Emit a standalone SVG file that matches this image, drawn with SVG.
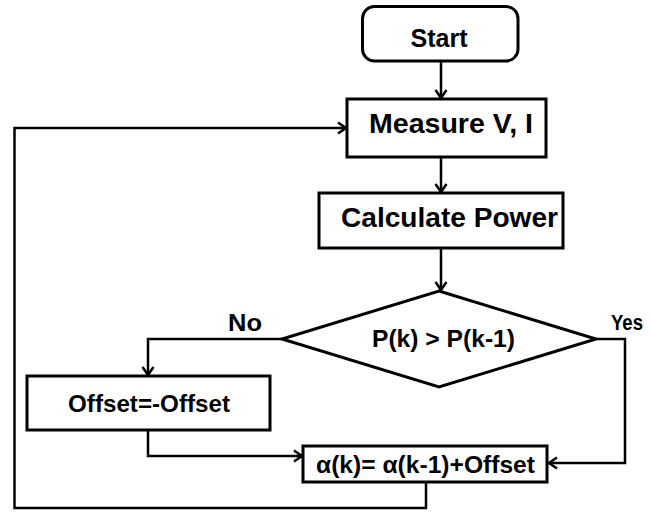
<svg xmlns="http://www.w3.org/2000/svg" width="651" height="512" viewBox="0 0 651 512">
<defs>
<marker id="arr" markerUnits="userSpaceOnUse" markerWidth="14" markerHeight="14" viewBox="-10 -7 12 14" refX="0" refY="0" orient="auto">
<path d="M-8,-5.5 L0,0 L-8,5.5" fill="none" stroke="#000" stroke-width="2.5"/>
</marker>
<style>
.box{fill:#fff;stroke:#000;stroke-width:3}
.ln{fill:none;stroke:#000;stroke-width:2.5}
.t{font-family:"Liberation Sans",Arial,sans-serif;font-weight:bold;fill:#000;text-anchor:middle}
</style>
</defs>
<rect width="651" height="512" fill="#fff"/>
<g id="connectors">
<path class="ln" d="M441,61 V98" marker-end="url(#arr)"/>
<path class="ln" d="M441,157 V192" marker-end="url(#arr)"/>
<path class="ln" d="M441,248 V290" marker-end="url(#arr)"/>
<path class="ln" d="M282,339 H148 V375" marker-end="url(#arr)"/>
<path class="ln" d="M148,430 V456 H302" marker-end="url(#arr)"/>
<path class="ln" d="M596,339 H625 V463 H549" marker-end="url(#arr)"/>
<path class="ln" d="M426,482 V508 H14.5 V128 H346" marker-end="url(#arr)"/>
</g>
<g id="start">
<rect class="box" x="362.5" y="6.5" width="155.5" height="54.5" rx="12" ry="12"/>
<text class="t" x="439" y="47" font-size="25" textLength="57" lengthAdjust="spacingAndGlyphs">Start</text>
</g>
<g id="measure">
<rect class="box" x="347" y="99" width="199" height="58"/>
<text class="t" x="451" y="133" font-size="27" textLength="164" lengthAdjust="spacingAndGlyphs">Measure V, I</text>
</g>
<g id="calc">
<rect class="box" x="319" y="193" width="244" height="55"/>
<text class="t" x="449.5" y="227" font-size="27" textLength="217" lengthAdjust="spacingAndGlyphs">Calculate Power</text>
</g>
<g id="decision">
<polygon class="box" points="439,291 596,339 439,387 282,339"/>
<text class="t" x="443.5" y="347" font-size="24" textLength="143" lengthAdjust="spacingAndGlyphs">P(k) &gt; P(k-1)</text>
</g>
<g id="label-no">
<text class="t" x="245" y="331" font-size="24" textLength="34" lengthAdjust="spacingAndGlyphs">No</text>
</g>
<g id="label-yes">
<text class="t" x="627" y="330" font-size="22" textLength="32" lengthAdjust="spacingAndGlyphs">Yes</text>
</g>
<g id="offset">
<rect class="box" x="27" y="376" width="243" height="54"/>
<text class="t" x="149" y="412" font-size="24" textLength="162" lengthAdjust="spacingAndGlyphs">Offset=-Offset</text>
</g>
<g id="alpha">
<rect class="box" x="303" y="446" width="244" height="36"/>
<text class="t" x="425.5" y="473" font-size="24" textLength="219" lengthAdjust="spacingAndGlyphs">α(k)= α(k-1)+Offset</text>
</g>
</svg>
